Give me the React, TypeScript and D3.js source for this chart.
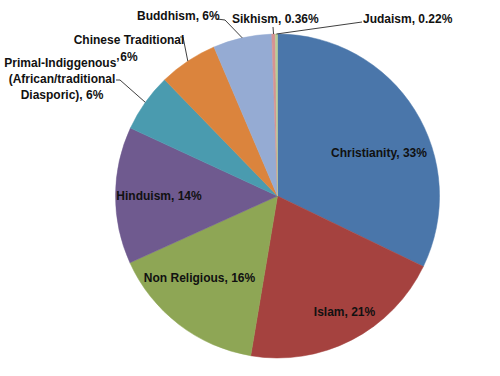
import React from "react";
import * as d3 from "d3";

const categories = [
  "Christianity",
  "Islam",
  "Non Religious",
  "Hinduism",
  "Primal-Indiggenous’ (African/traditional Diasporic)",
  "Chinese Traditional",
  "Buddhism",
  "Sikhism",
  "Judaism",
];
const values = [33, 21, 16, 14, 6, 6, 6, 0.36, 0.22];
const valueLabels = ["33%", "21%", "16%", "14%", "6%", "6%", "6%", "0.36%", "0.22%"];
const colors = [
  "#4A76AA",
  "#A5423F",
  "#8EA655",
  "#6F5A8F",
  "#4A9BAF",
  "#DB843D",
  "#95ABD3",
  "#D69392",
  "#B9CD96",
];

// label layout (positions, not data)
type Layout = {
  lines: string[];
  x: number;
  y: number;
  anchor: "start" | "middle" | "end";
  lineGap?: number;
  leader?: [number, number][];
};

const W = 500;
const H = 376;
const cx = 277.5;
const cy = 196;
const R = 162;

const textLines = (i: number): string[] => {
  const name = categories[i];
  const v = valueLabels[i];
  if (i === 4) return ["Primal-Indiggenous’", "(African/traditional", `Diasporic), ${v}`];
  if (i === 5) return [name, v];
  return [`${name}, ${v}`];
};

const layouts: Layout[] = [
  { lines: textLines(0), x: 379, y: 157, anchor: "middle" },
  { lines: textLines(1), x: 344.5, y: 316, anchor: "middle" },
  { lines: textLines(2), x: 199.5, y: 282, anchor: "middle" },
  { lines: textLines(3), x: 159, y: 200, anchor: "middle" },
  { lines: textLines(4), x: 62, y: 67, anchor: "middle", lineGap: 16, leader: [[116, 80], [120, 80]] },
  { lines: textLines(5), x: 129, y: 44, anchor: "middle", lineGap: 16.5, leader: [[180, 37], [183, 37]] },
  { lines: textLines(6), x: 137, y: 20, anchor: "start", leader: [[217, 19], [225, 20]] },
  { lines: textLines(7), x: 232, y: 23, anchor: "start", leader: [[273, 27]] },
  { lines: textLines(8), x: 363, y: 23, anchor: "start", leader: [[362, 22]] },
];

export default function App() {
  const pie = d3
    .pie<number>()
    .sort(null)
    .value((d) => d)
    .startAngle(0)
    .endAngle(2 * Math.PI);
  const arcs = pie(values);
  const arcGen = d3.arc<d3.PieArcDatum<number>>().innerRadius(0).outerRadius(R);

  const font = "'Liberation Sans Narrow', 'Liberation Sans', Arial, sans-serif";

  return (
    <svg
      width={W}
      height={H}
      viewBox={`0 0 ${W} ${H}`}
      style={{ position: "absolute", left: 0, top: 0, background: "#fff" }}
    >
      <g transform={`translate(${cx},${cy})`}>
        {arcs.map((a, i) => (
          <path key={i} d={arcGen(a) || ""} fill={colors[i]} stroke={colors[i]} strokeWidth={0.5} />
        ))}
      </g>
      {arcs.map((a, i) => {
        const lay = layouts[i];
        if (!lay.leader) return null;
        const mid = (a.startAngle + a.endAngle) / 2;
        const end: [number, number] = [cx + R * Math.sin(mid), cy - R * Math.cos(mid)];
        const pts = [...lay.leader, end];
        const line = d3.line()(pts) || "";
        return <path key={"l" + i} d={line} fill="none" stroke="#404040" strokeWidth={1} />;
      })}
      {layouts.map((lay, i) => (
        <text
          key={"t" + i}
          x={lay.x}
          y={lay.y}
          textAnchor={lay.anchor}
          fontFamily={font}
          fontWeight="bold"
          fontSize={12}
          fill="#111"
        >
          {lay.lines.map((ln, j) => (
            <tspan key={j} x={lay.x} dy={j === 0 ? 0 : lay.lineGap || 15}>
              {ln}
            </tspan>
          ))}
        </text>
      ))}
    </svg>
  );
}
